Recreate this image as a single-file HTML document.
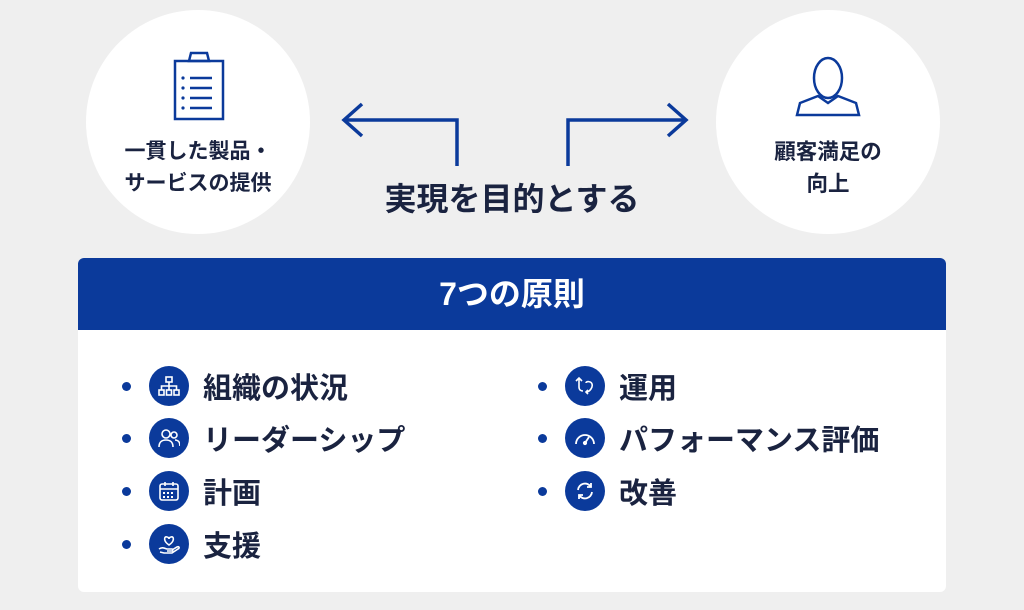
<!DOCTYPE html>
<html><head><meta charset="utf-8">
<style>
*{margin:0;padding:0;box-sizing:border-box}
body{width:1024px;height:610px;background:#efefef;position:relative;overflow:hidden;font-family:"Liberation Sans","Noto Sans CJK JP",sans-serif;color:#1a2340}
.circle{position:absolute;width:224px;height:224px;border-radius:50%;background:#fff}
.ct{position:absolute;width:224px;text-align:center;font-size:21px;font-weight:700;line-height:32px;color:#1a2340}
.panel{position:absolute;left:78px;top:258px;width:868px;height:334px;background:#fff;border-radius:6px;overflow:hidden}
.hdr{height:72px;background:#0b3a9b;color:#fff;font-size:32px;font-weight:700;text-align:center;line-height:72px}
.item{position:absolute;height:40px;display:flex;align-items:center}
.dot{width:9px;height:9px;border-radius:50%;background:#0b3a9b;margin-right:18px}
.ic{width:40px;height:40px;border-radius:50%;background:#0b3a9b;display:flex;align-items:center;justify-content:center;margin-right:14px}
.lbl{font-size:29px;font-weight:700;color:#1a2340}
</style></head><body>
<div class="circle" style="left:86px;top:10px"></div>
<div class="circle" style="left:716px;top:10px"></div>
<svg style="position:absolute;left:0;top:0" width="1024" height="610">
<g fill="none" stroke="#0b3a9b" stroke-width="2.5">
<rect x="175" y="61" width="48" height="58"/>
<path d="M189 61 L191 53 L207 53 L209 61 Z"/>
<g stroke-width="2.5"><line x1="190" y1="78" x2="212" y2="78"/><line x1="190" y1="88" x2="212" y2="88"/><line x1="190" y1="98" x2="212" y2="98"/><line x1="190" y1="108" x2="212" y2="108"/></g>
</g>
<g fill="#0b3a9b"><circle cx="183" cy="78" r="1.6"/><circle cx="183" cy="88" r="1.6"/><circle cx="183" cy="98" r="1.6"/><circle cx="183" cy="108" r="1.6"/></g>
<g fill="none" stroke="#0b3a9b" stroke-width="2.5">
<ellipse cx="828" cy="78" rx="14" ry="20"/>
<path d="M797 115 L800 103 L818 96 L828 103 L838 96 L856 103 L859 115 Z"/>
</g>
<g fill="none" stroke="#0b3a9b" stroke-width="3.5">
<path d="M457 166 V120 H344"/><path d="M362 104 L344 120 L362 136"/>
<path d="M568 166 V120 H686"/><path d="M668 104 L686 120 L668 136"/>
</g>
</svg>
<div class="ct" style="left:86px;top:136px">一貫した製品・<br>サービスの提供</div>
<div class="ct" style="left:716px;top:136px;font-size:21.5px">顧客満足の<br>向上</div>
<div style="position:absolute;left:312px;width:400px;top:174px;text-align:center;font-size:32px;font-weight:700">実現を目的とする</div>
<div class="panel"><div class="hdr">7つの原則</div></div>

<div class="item" style="left:122px;top:366px"><div class="dot"></div><div class="ic"><svg width="22" height="22" fill="none" stroke="#fff" stroke-width="1.6"><rect x="8" y="2" width="6" height="5"/><rect x="1" y="15" width="5" height="5"/><rect x="8.5" y="15" width="5" height="5"/><rect x="16" y="15" width="5" height="5"/><path d="M11 7V15M3.5 15V11H18.5V15"/></svg></div><div class="lbl">組織の状況</div></div>
<div class="item" style="left:122px;top:418px"><div class="dot"></div><div class="ic"><svg width="22" height="22" fill="none" stroke="#fff" stroke-width="1.6"><circle cx="8" cy="7" r="4"/><path d="M1 20c0-5 3-7 7-7s7 2 7 7"/><circle cx="16" cy="8" r="3"/><path d="M17 13c3 0 5 2 5 6"/></svg></div><div class="lbl">リーダーシップ</div></div>
<div class="item" style="left:122px;top:471px"><div class="dot"></div><div class="ic"><svg width="22" height="22" fill="none" stroke="#fff" stroke-width="1.6"><rect x="2" y="4" width="18" height="16" rx="2"/><path d="M2 9H20M7 2V6M15 2V6"/><g fill="#fff" stroke="none"><rect x="5" y="12" width="2" height="2"/><rect x="9" y="12" width="2" height="2"/><rect x="13" y="12" width="2" height="2"/><rect x="5" y="16" width="2" height="2"/><rect x="9" y="16" width="2" height="2"/><rect x="13" y="16" width="2" height="2"/></g></svg></div><div class="lbl">計画</div></div>
<div class="item" style="left:122px;top:524px"><div class="dot"></div><div class="ic"><svg width="22" height="22" fill="none" stroke="#fff" stroke-width="1.6"><path d="M11 12C5 8 6 3 9 4c1 0 2 1 2 2 0-1 1-2 2-2 3-1 4 4-2 8z"/><path d="M1 16c3-2 5-1 8 0h5c1 0 1 2 0 2H9M14 17l5-3c2-1 3 1 1 2l-6 4H6L2 19"/></svg></div><div class="lbl">支援</div></div>

<div class="item" style="left:538px;top:366px"><div class="dot"></div><div class="ic"><svg width="22" height="22" fill="none" stroke="#fff" stroke-width="1.6"><path d="M5 3v9c0 3 2 4 4 4"/><path d="M2 6l3-3 3 3"/><path d="M12 8c0-2 5-2 6 1s-2 8-6 8"/><path d="M14 15l-2 2 2 2"/></svg></div><div class="lbl">運用</div></div>
<div class="item" style="left:538px;top:418px"><div class="dot"></div><div class="ic"><svg width="22" height="22" fill="none" stroke="#fff" stroke-width="1.8"><path d="M2 17A9 9 0 0 1 20 17"/><path d="M11 16L15 10"/><circle cx="11" cy="16" r="1.2" fill="#fff"/></svg></div><div class="lbl">パフォーマンス評価</div></div>
<div class="item" style="left:538px;top:471px"><div class="dot"></div><div class="ic"><svg width="22" height="22" fill="none" stroke="#fff" stroke-width="1.8"><path d="M4 10A7 7 0 0 1 17 7"/><path d="M17 3V7H13"/><path d="M18 12A7 7 0 0 1 5 15"/><path d="M5 19V15H9"/></svg></div><div class="lbl">改善</div></div>
</body></html>
